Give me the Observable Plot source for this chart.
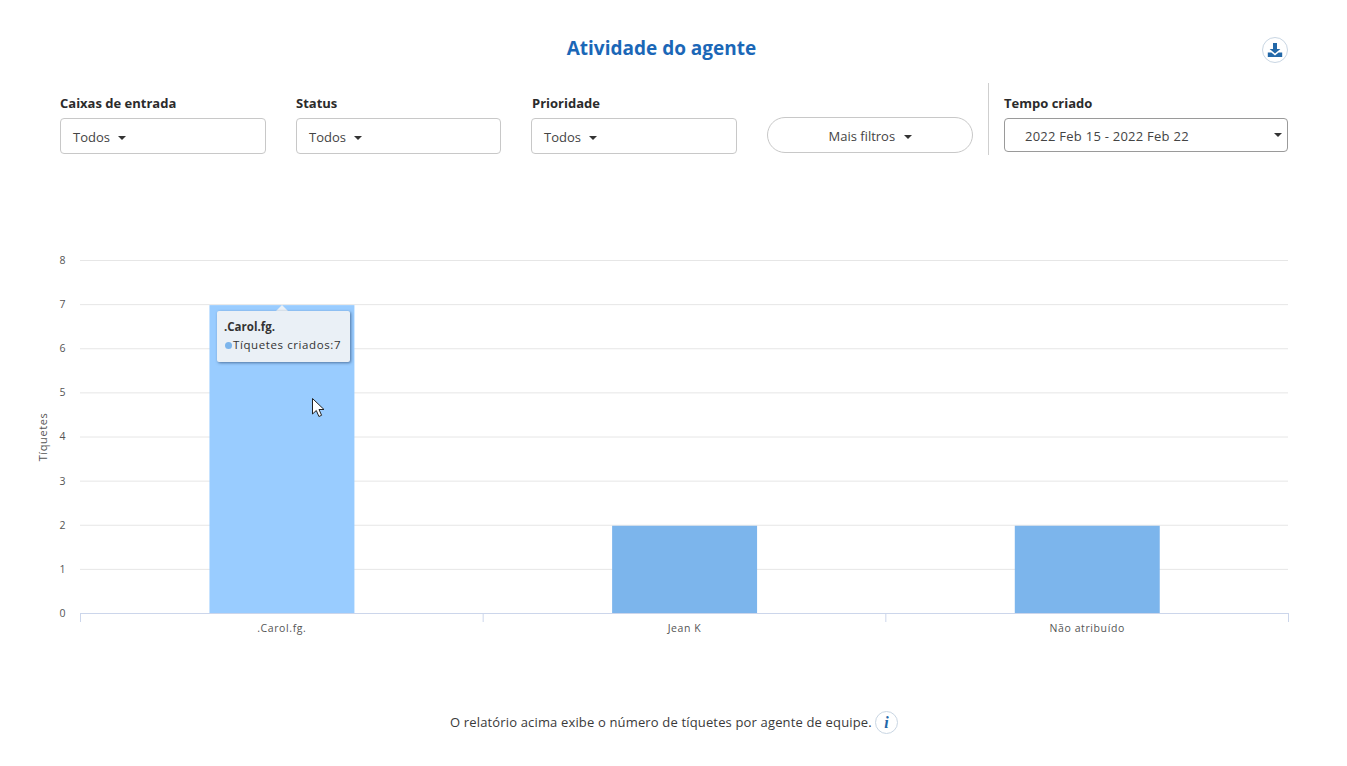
<!DOCTYPE html>
<html lang="pt">
<head>
<meta charset="utf-8">
<script src="https://cdn.jsdelivr.net/npm/d3@7"></script>
<script src="https://cdn.jsdelivr.net/npm/@observablehq/plot@0.6"></script>
<style>
  html,body{margin:0;padding:0;background:#fff;}
  body{width:1347px;height:766px;overflow:hidden;position:relative;font-family:"Open Sans",sans-serif;color:#333;}
  .abs{position:absolute;box-sizing:border-box;}
  h1{margin:0;left:0;top:35px;width:1323px;text-align:center;font-size:19px;line-height:26px;font-weight:700;color:#1b67b7;}
  .lab{font-size:13px;font-weight:700;line-height:18px;color:#2b2b2b;top:94px;}
  .sel{border:1px solid #c8c8c8;border-radius:4px;font-size:13px;color:#444;line-height:18px;top:118px;height:36px;padding:9px 12px;background:#fff;}
  .car{display:inline-block;width:0;height:0;border-left:4px solid transparent;border-right:4px solid transparent;border-top:4px solid #333;vertical-align:2px;margin-left:5px;}
  #chart{left:0;top:230px;}
  #chart svg{display:block;}
  #chart svg text{letter-spacing:.6px;}
  #tip{left:217px;top:311px;width:133px;height:51px;background:#eaf0f6;border-radius:2px;box-shadow:1px 1px 3px rgba(40,70,110,.65);font-size:11.5px;line-height:18px;padding:7px 0 0 7px;color:#333;letter-spacing:.6px;white-space:nowrap;}
  #tip b{font-weight:700;letter-spacing:0;}
  #tip i{display:inline-block;width:7px;height:7px;border-radius:50%;background:#7cb5ec;margin:0 1px 0 1px;}
  #arrow{left:276px;top:305px;width:0;height:0;border-left:6.5px solid transparent;border-right:6.5px solid transparent;border-bottom:6px solid #eaf0f6;}
  #foot{left:450px;top:712px;font-size:13px;line-height:20px;color:#3a3a3a;white-space:nowrap;letter-spacing:.155px;}
  .circ{border:1px solid #c9d6e3;border-radius:50%;background:#fff;text-align:center;color:#2368a8;}
</style>
</head>
<body>
<h1 class="abs">Atividade do agente</h1>
<div class="abs circ" style="left:1262px;top:37px;width:26px;height:26px;">
  <svg width="24" height="24" viewBox="0 0 24 24"><path d="M10 5h4v6h3.4L12 15.6 6.6 11H10z M4.8 14.5h3.6l3.6 3 3.6-3h3.6V19H4.8z" fill="#2368a8"/></svg>
</div>
<div class="abs lab" style="left:60px">Caixas de entrada</div>
<div class="abs lab" style="left:296px">Status</div>
<div class="abs lab" style="left:532px">Prioridade</div>
<div class="abs lab" style="left:1004px">Tempo criado</div>
<div class="abs sel" style="left:60px;width:206px">Todos <span class="car"></span></div>
<div class="abs sel" style="left:296px;width:205px">Todos <span class="car"></span></div>
<div class="abs sel" style="left:531px;width:206px">Todos <span class="car"></span></div>
<div class="abs sel" style="left:767px;width:206px;border-radius:18px;text-align:center;top:117px;padding-top:9px;">Mais filtros <span class="car"></span></div>
<div class="abs" style="left:988px;top:83px;width:1px;height:72px;background:#cfcfcf"></div>
<div class="abs sel" style="left:1004px;width:284px;height:34px;border-color:#9a9a9a;padding:8px 20px;letter-spacing:.25px;">2022 Feb 15 - 2022 Feb 22<span class="car" style="position:absolute;right:5px;top:14px;margin:0"></span></div>

<div class="abs" id="chart"></div>

<div class="abs" id="arrow"></div>
<div class="abs" id="tip"><b>.Carol.fg.</b><br><i></i>Tíquetes criados:7</div>
<svg class="abs" style="left:311px;top:397px" width="16" height="22" viewBox="0 0 16 22"><path d="M1.5 1.5V17l3.8-3.5 2.6 6 2.7-1.2-2.6-5.8h5z" fill="#fff" stroke="#222" stroke-width="1"/></svg>

<div class="abs" id="foot">O relatório acima exibe o número de tíquetes por agente de equipe.</div>
<div class="abs circ" style="left:875px;top:711px;width:23px;height:23px;font:italic 700 16px/21px 'Liberation Serif',serif;">i</div>

<script>
const agents = [".Carol.fg.", "Jean K", "Não atribuído"];
const tickets = [7, 2, 2];
const barColors = ["#99ccff", "#7cb5ec", "#7cb5ec"];
const yTicks = [0, 1, 2, 3, 4, 5, 6, 7, 8];
const rows = agents.map((agent, i) => ({agent, tickets: tickets[i], color: barColors[i]}));
const halfBand = 1208 / 3 / 2;

const plot = Plot.plot({
  width: 1347,
  height: 430,
  marginTop: 30,
  marginBottom: 47,
  marginLeft: 80,
  marginRight: 59,
  style: {fontFamily: "'Open Sans',sans-serif", fontSize: "10.5px", background: "transparent", overflow: "visible"},
  x: {domain: agents, paddingInner: 0.64, paddingOuter: 0.32, round: false, label: null},
  y: {domain: [0, 8], label: null},
  marks: [
    Plot.gridY(yTicks, {stroke: "#e6e6e6", strokeOpacity: 1}),
    Plot.barY(rows, {x: "agent", y: "tickets", fill: "color", dx: 0.6, insetTop: 1}),
    Plot.ruleY([0], {stroke: "#ccd6eb"}),
    Plot.axisY({ticks: yTicks, tickSize: 0, tickPadding: 14.5, color: "#555", label: null, tickFormat: d => d}),
    Plot.text(["Tíquetes"], {frameAnchor: "left", dx: -37, rotate: -90, fill: "#555", fontSize: 11, textAnchor: "middle"}),
    Plot.axisX({tickSize: 0, tickPadding: 11, color: "#555", label: null}),
    Plot.axisX({tickSize: 9, dx: -halfBand, stroke: "#ccd6eb", tickFormat: () => "", label: null}),
    Plot.axisX(agents.slice(-1), {tickSize: 9, dx: halfBand, stroke: "#ccd6eb", tickFormat: () => "", label: null})
  ]
});
document.getElementById("chart").appendChild(plot);
</script>
</body>
</html>
